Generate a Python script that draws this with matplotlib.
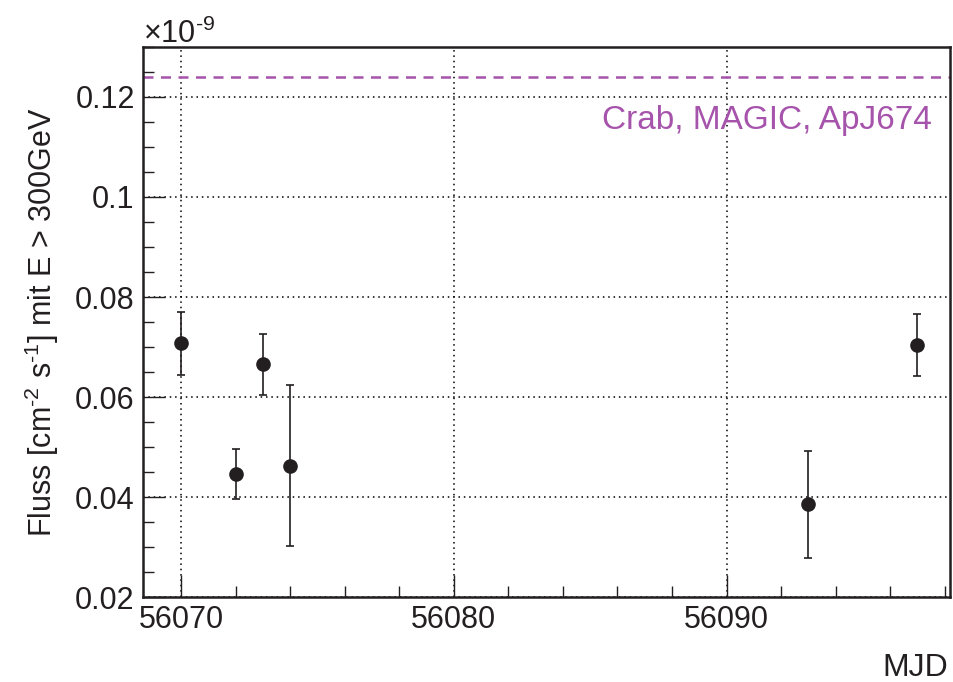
import matplotlib
matplotlib.use("Agg")
import matplotlib.pyplot as plt
from matplotlib.ticker import MultipleLocator, FuncFormatter

# data (flux in units of 1e-9 cm^-2 s^-1)
mjd = [56070, 56072, 56073, 56074, 56093, 56097]
flux = [0.0708, 0.0447, 0.0666, 0.0463, 0.0386, 0.0704]
flux_err = [0.0063, 0.0050, 0.0061, 0.0161, 0.0107, 0.0062]
crab_flux = 0.124
crab_label = "Crab, MAGIC, ApJ674"

plt.rcParams["font.family"] = ["Liberation Sans", "DejaVu Sans"]
plt.rcParams["mathtext.fontset"] = "custom"
plt.rcParams["mathtext.rm"] = "Liberation Sans"
plt.rcParams["mathtext.it"] = "Liberation Sans"

text_color = "#231f20"
purple = "#a653ac"

fig = plt.figure(figsize=(9.54, 6.82), dpi=100)
ax = fig.add_axes([0.1499, 0.1246, 0.846, 0.8065])

ax.errorbar(mjd, flux, yerr=flux_err, fmt="o", color=text_color,
            markersize=9.5, elinewidth=1.2, capsize=3, capthick=1.2, zorder=3)
ax.axhline(crab_flux, color=purple, linestyle=(0, (4, 3)), linewidth=1.8)
ax.text(0.9777, 0.851, crab_label, transform=ax.transAxes, ha="right",
        va="baseline", color=purple, fontsize=24)

ax.set_xlim(56068.6, 56098.2)
ax.set_ylim(0.02, 0.13)

ax.xaxis.set_major_locator(MultipleLocator(10))
ax.xaxis.set_minor_locator(MultipleLocator(2))
ax.yaxis.set_major_locator(MultipleLocator(0.02))
ax.yaxis.set_minor_locator(MultipleLocator(0.005))
ax.yaxis.set_major_formatter(FuncFormatter(lambda v, p: "%g" % round(v, 4)))
ax.xaxis.set_major_formatter(FuncFormatter(lambda v, p: "%d" % v))

ax.grid(True, which="major", linestyle=(0, (1, 2.5)), color="black", linewidth=1.1)

ax.tick_params(which="both", direction="in", colors=text_color,
               labelsize=22, top=False, right=False, width=1)
ax.tick_params(which="major", length=16, pad=6)
ax.tick_params(which="minor", length=8)
for s in ax.spines.values():
    s.set_linewidth(1.8)
    s.set_color(text_color)

ax.set_ylabel(r"Fluss [cm$^{\text{-}2}$ s$^{\text{-}1}$] mit E > 300GeV",
              fontsize=22, color=text_color, labelpad=10)
ax.text(0.997, -0.1436, "MJD", transform=ax.transAxes, ha="right",
        va="baseline", fontsize=23, color=text_color)
ax.text(0.0, 1.0073, r"$\times$10$^{\text{-}9}$", transform=ax.transAxes,
        ha="left", va="baseline", fontsize=22, color=text_color)

fig.savefig("out.png", dpi=100)
